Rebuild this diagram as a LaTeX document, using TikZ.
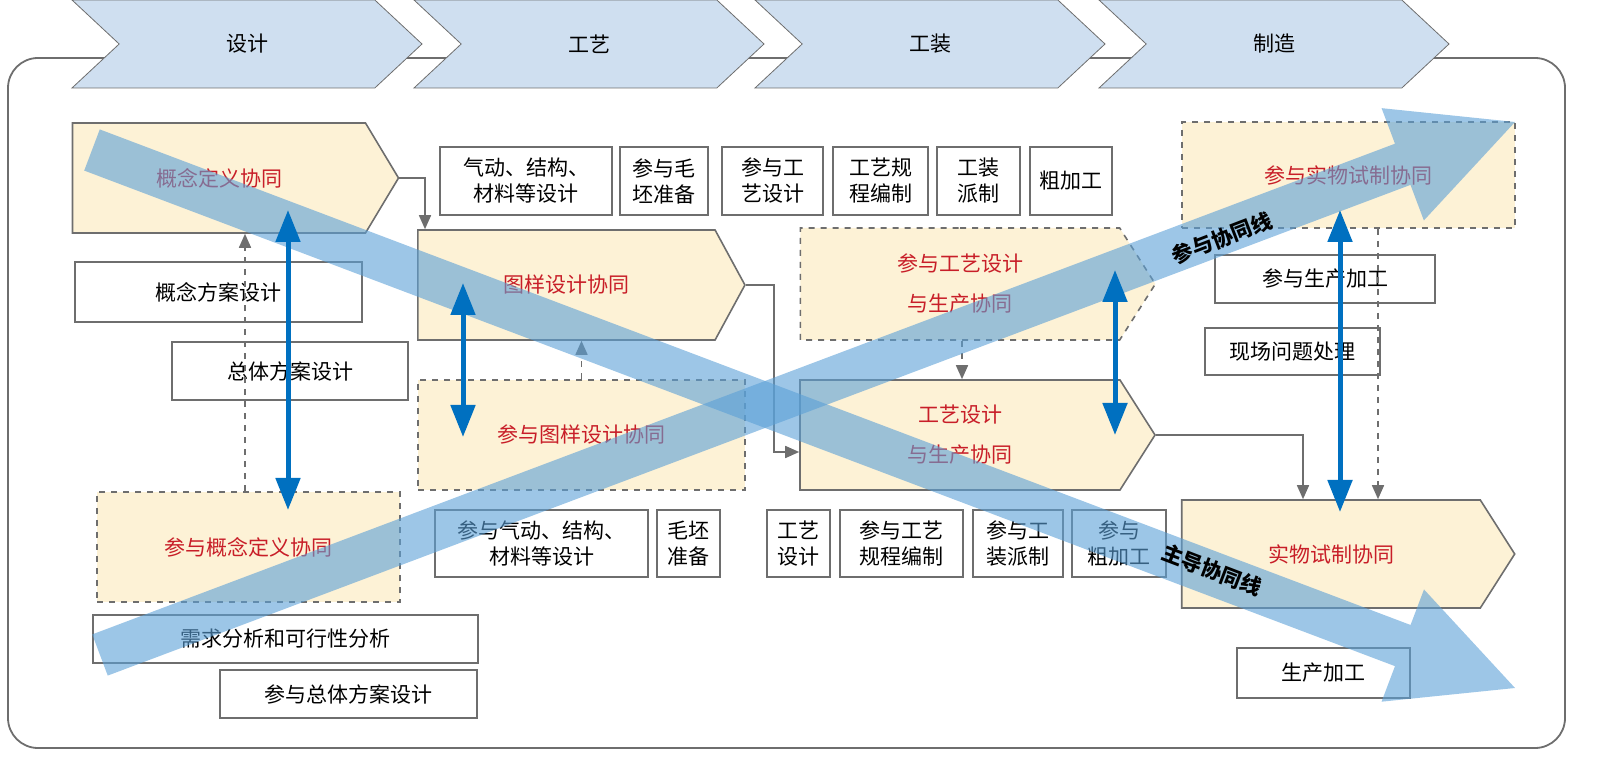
\documentclass[tikz,border=0pt]{standalone}
\usepackage{fontspec}
\setmainfont{Noto Sans CJK SC}
\usetikzlibrary{calc,shapes.symbols,arrows.meta,positioning}
\definecolor{stagefill}{RGB}{207,223,240}
\definecolor{cofill}{RGB}{253,242,214}
\definecolor{cored}{RGB}{200,30,40}
\definecolor{lineblue}{RGB}{0,112,192}
\definecolor{bandblue}{RGB}{91,160,215}
\definecolor{edgegray}{RGB}{110,110,110}
\tikzset{%
    stage/.style={%
        signal, signal to=east, signal from=west, signal pointer angle=86, draw=edgegray, fill=stagefill,
        minimum width=175pt, minimum height=44pt, inner sep=0pt, font=\fontsize{10.5}{12}\selectfont
    },
    colead/.style={%
        signal, signal to=east, draw=edgegray, line width=0.8pt, fill=cofill, text=cored, inner sep=0pt,
        align=center, font=\fontsize{10.5}{20}\selectfont
    },
    copart/.style={%
        rectangle, draw=edgegray, dashed, line width=0.8pt, fill=cofill, text=cored, inner sep=0pt,
        align=center, font=\fontsize{10.5}{20}\selectfont
    },
    task/.style={%
        rectangle, draw=edgegray, line width=0.8pt, fill=white, inner sep=1pt, align=center,
        font=\fontsize{10.5}{13}\selectfont
    },
    flow/.style={%
        draw=edgegray, line width=0.8pt, -{Triangle[width=6pt,length=7pt]}
    },
    dflow/.style={%
        flow, dashed
    },
    sync/.style={%
        draw=lineblue, line width=2.5pt, {Triangle[width=12pt,length=16pt]}-{Triangle[width=12pt,length=16pt]}
    },
    band/.style={%
        fill=bandblue, fill opacity=0.6
    },
    bandtxt/.style={%
        font=\fontsize{10.5}{12}\selectfont\bfseries, text=black
    },
}
\begin{document}
\begin{tikzpicture}[x=0.5pt,y=-0.5pt]
  \useasboundingbox (0,0) rectangle (1600,769);

  % frame
  \draw[edgegray, line width=0.9pt, rounded corners=15pt] (8,58) rectangle (1565,748);

  % stages
  \node[stage] (design) at (247,44) {设计};
  \node[stage] (craft) at (589,44) {工艺};
  \node[stage] (tooling) at (930,44) {工装};
  \node[stage] (making) at (1274,44) {制造};

  % collaboration blocks
  \node[colead, minimum width=163pt, minimum height=55pt, signal pointer angle=118] (def) at (219,178) {概念定义协同};
  \node[colead, minimum width=163.5pt, minimum height=55pt, signal pointer angle=123] (drawing) at (566.5,285) {图样设计协同};
  \node[copart, minimum width=163.5pt, minimum height=55pt] (cydrawing) at (581.5,435) {参与图样设计协同};
  \node[copart, minimum width=151.5pt, minimum height=55pt] (cydef) at (248.5,547) {参与概念定义协同};
  \node[colead, dashed, minimum width=177.5pt, minimum height=56pt, signal pointer angle=115] (cyproc) at (960,284) {参与工艺设计\\与生产协同};
  \node[colead, minimum width=177.5pt, minimum height=55pt, signal pointer angle=115] (proc) at (960,435) {工艺设计\\与生产协同};
  \node[copart, minimum width=166.5pt, minimum height=53pt] (cytrial) at (1348.5,175) {参与实物试制协同};
  \node[colead, minimum width=166.5pt, minimum height=54pt, signal pointer angle=115] (trial) at (1331,554) {实物试制协同};

  % tasks
  \node[task, minimum width=143.5pt, minimum height=30pt] (concept) at (218.5,292) {概念方案设计};
  \node[task, minimum width=118pt, minimum height=29pt] (overall) at (290,371) {总体方案设计};
  \node[task, minimum width=192.5pt, minimum height=24pt] (demand) at (285.5,639) {需求分析和可行性分析};
  \node[task, minimum width=128.5pt, minimum height=24pt] (cyoverall) at (348.5,694) {参与总体方案设计};
  \node[task, minimum width=86pt, minimum height=34pt] (aero) at (526,181) {气动、结构、\\材料等设计};
  \node[task, minimum width=44pt, minimum height=34pt] (cyblank) at (664,181) {参与毛\\坯准备};
  \node[task, minimum width=50.5pt, minimum height=34pt] (cyprocd) at (772.5,181) {参与工\\艺设计};
  \node[task, minimum width=47.5pt, minimum height=34pt] (plan) at (880.5,181) {工艺规\\程编制};
  \node[task, minimum width=41.5pt, minimum height=34pt] (tool) at (978.5,181) {工装\\派制};
  \node[task, minimum width=41pt, minimum height=34pt] (rough) at (1071,181) {粗加工};
  \node[task, minimum width=106.5pt, minimum height=33.5pt] (cyaero) at (541.5,543.5) {参与气动、结构、\\材料等设计};
  \node[task, minimum width=31.5pt, minimum height=33.5pt] (blank) at (688.5,543.5) {毛坯\\准备};
  \node[task, minimum width=31.5pt, minimum height=33.5pt] (procd) at (798.5,543.5) {工艺\\设计};
  \node[task, minimum width=61.5pt, minimum height=33.5pt] (cyplan) at (901.5,543.5) {参与工艺\\规程编制};
  \node[task, minimum width=45pt, minimum height=33.5pt] (cytool) at (1018,543.5) {参与工\\装派制};
  \node[task, minimum width=47pt, minimum height=33.5pt] (cyrough) at (1119,543.5) {参与\\粗加工};
  \node[task, minimum width=110pt, minimum height=24pt] (cyprod) at (1325,279) {参与生产加工};
  \node[task, minimum width=87.5pt, minimum height=23.5pt] (site) at (1292.5,351.5) {现场问题处理};
  \node[task, minimum width=86.5pt, minimum height=25pt] (prod) at (1323.5,673) {生产加工};

  % flow
  \draw[flow] (def.east) -| ([xshift=-70.75pt]drawing.north);
  \draw[flow] (drawing.east) -- ++(14pt,0) |- ([yshift=-8.5pt]proc.west);
  \draw[flow] (proc.east) -| ([xshift=-14pt]trial.north);
  \draw[dflow] ([xshift=-1.75pt]cydef.north) -- ([xshift=13pt]def.south);
  \draw[dflow] (cydrawing.north) -- ([xshift=7.5pt]drawing.south);
  \draw[dflow] ([xshift=1pt]cyproc.south) -- ([xshift=1pt]proc.north);
  \draw[dflow] ([xshift=14.75pt]cytrial.south) -- ([xshift=23.5pt]trial.north);

  % bands
  \coordinate (leadS) at (92,150);
  \coordinate (leadE) at (1515,688);
  \coordinate (leadH) at ($(leadE)!60pt!(leadS)$);
  \fill[band] ($(leadS)!11pt!90:(leadE)$) -- ($(leadH)!11pt!-90:(leadS)$) -- ($(leadH)!30pt!-90:(leadS)$)
    -- (leadE) -- ($(leadH)!30pt!90:(leadS)$) -- ($(leadH)!11pt!90:(leadS)$) -- ($(leadS)!11pt!-90:(leadE)$) -- cycle;
  \coordinate (partS) at (100,655);
  \coordinate (partE) at (1515,122);
  \coordinate (partH) at ($(partE)!60pt!(partS)$);
  \fill[band] ($(partS)!11pt!90:(partE)$) -- ($(partH)!11pt!-90:(partS)$) -- ($(partH)!30pt!-90:(partS)$)
    -- (partE) -- ($(partH)!30pt!90:(partS)$) -- ($(partH)!11pt!90:(partS)$) -- ($(partS)!11pt!-90:(partE)$) -- cycle;
  \node[bandtxt, rotate=21] (parttxt) at (1222,238) {参与协同线};
  \node[bandtxt, rotate=-21] (leadtxt) at (1212,570) {主导协同线};

  % sync
  \draw[sync] (288,210) -- (288,510);
  \draw[sync] (463,283) -- (463,437);
  \draw[sync] (1115,270) -- (1115,435);
  \draw[sync] (1340,210) -- (1340,512);

\end{tikzpicture}
\end{document}
